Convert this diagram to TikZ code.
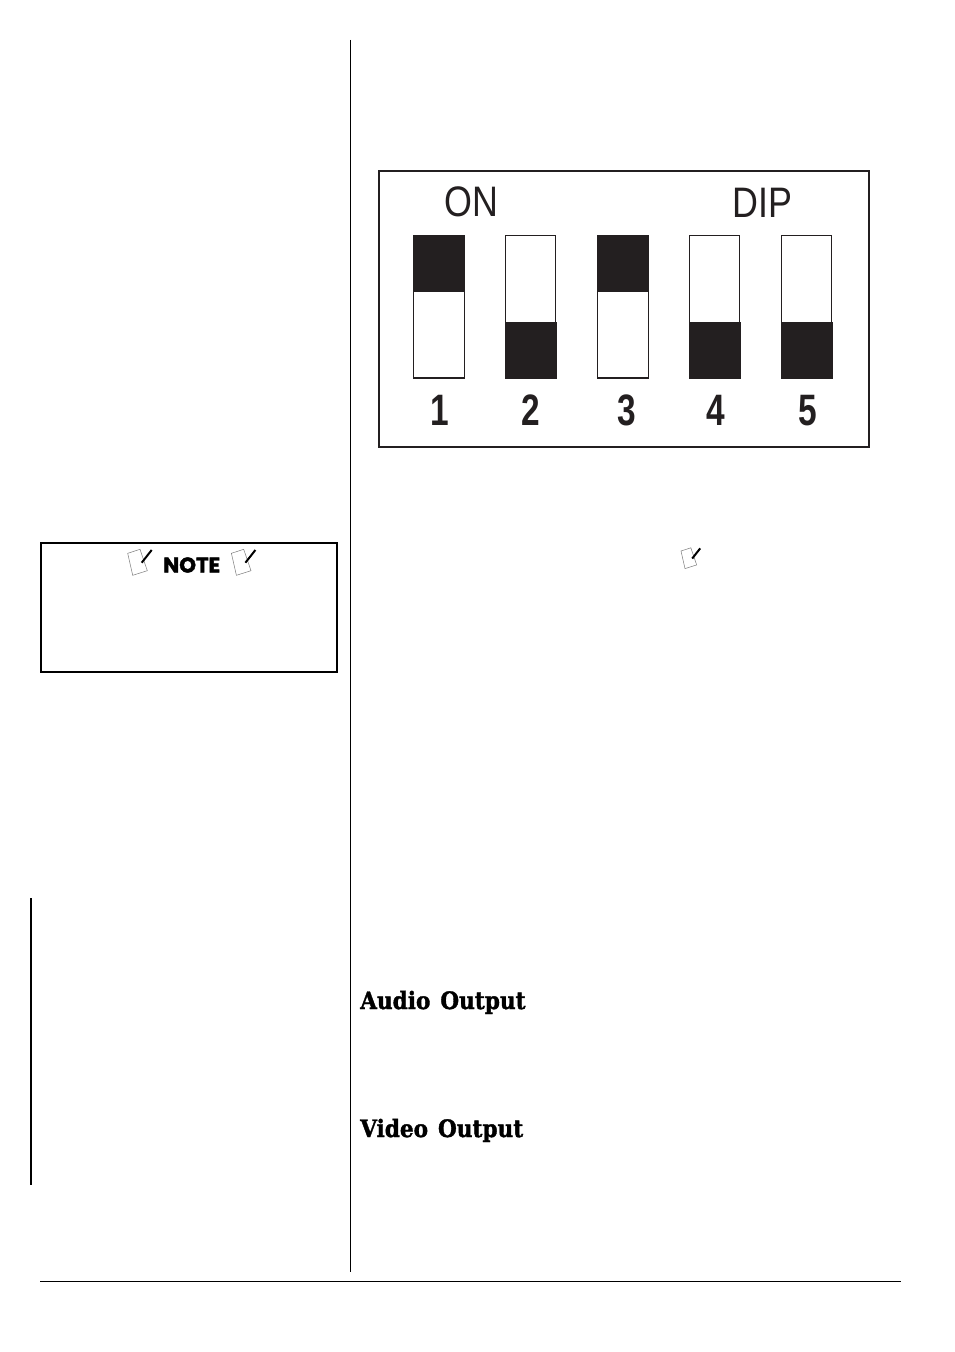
\documentclass[tikz,border=0pt]{standalone}
\usepackage{fontspec}
\setmainfont{Liberation Sans}
\newfontfamily\headfont[BoldFeatures={FakeBold=1.6}]{DejaVu Serif}
\newfontfamily\notefont[BoldFeatures={FakeBold=2}]{Poppins}
\definecolor{inkblack}{HTML}{231F20}
\tikzset{
  thinrule/.style = {line width = 1.1pt},
  boxrule/.style = {line width = 1.7pt},
  swlabel/.style = {font = \fontsize{33}{33}\selectfont\bfseries, text = inkblack, xscale = 0.76, inner sep = 0pt},
  dipword/.style = {font = \fontsize{32}{32}\selectfont, text = inkblack, xscale = 0.84, inner sep = 0pt},
  headword/.style = {font = \headfont\fontsize{18}{18}\selectfont\bfseries, anchor = base west, inner sep = 0pt, xscale = 0.9},
  noteicon/.pic = {
    \draw [gray, line width = 0.4pt] (0,0) -- (12.3,-4) -- (19.6,17.4) -- (5,22) -- cycle;
    \draw [line width = 1.5pt] (24,-3.3) -- (14,9.4);
  }
}
\begin{document}
\begin{tikzpicture}[x = 0.75pt, y = -0.75pt]
\useasboundingbox (0,0) rectangle (954,1352);
% rules
\draw [thinrule] (350.5,40) -- (350.5,1272);
\draw [boxrule] (31,898) -- (31,1185);
\draw [thinrule] (40,1281.5) -- (901,1281.5);
% note box
\draw [boxrule] (41,543) rectangle (337,672);
\pic at (127.7,553.3) {noteicon};
\node [font = \notefont\fontsize{16}{16}\selectfont\bfseries, inner sep = 0pt] (notelabel) at (191.7,565) {NOTE};
\pic at (231.4,553.3) {noteicon};
\pic [scale = 0.8] at (681,551) {noteicon};
% dip switch
\draw [boxrule, inkblack] (379,171) rectangle (869,447);
\node [dipword] (onlabel) at (471.7,202) {ON};
\node [dipword] (diplabel) at (762.7,203) {DIP};
\foreach \x in {413.5,597.5}{
  \draw [inkblack, line width = 1.1pt] (\x,235.5) rectangle (\x+51,378);
  \fill [inkblack] (\x-0.5,235) rectangle (\x+51.5,292);
}
\foreach \x in {505,689,781}{
  \draw [inkblack, line width = 1.1pt] (\x+0.5,235.5) rectangle (\x+50.5,378);
  \fill [inkblack] (\x,322) rectangle (\x+51.5,379);
}
\node [swlabel] (swone) at (439.5,410.5) {1};
\node [swlabel] (swtwo) at (530.7,410.5) {2};
\node [swlabel] (swthree) at (627,410) {3};
\node [swlabel] (swfour) at (716,410.5) {4};
\node [swlabel] (swfive) at (808,411) {5};
% headings
\node [headword] (audiohead) at (360,1009) {Audio\hspace{2pt} Output};
\node [headword] (videohead) at (360,1137) {Video\hspace{2pt} Output};
\end{tikzpicture}
\end{document}
